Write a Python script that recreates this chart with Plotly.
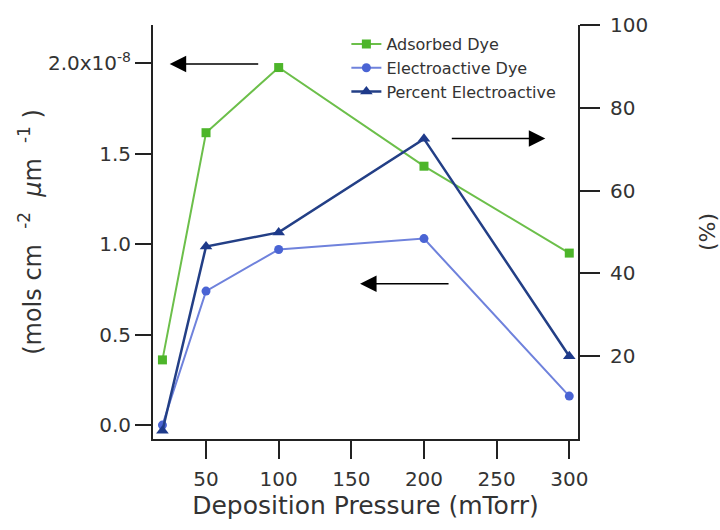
import plotly.graph_objects as go

pressure = [20, 50, 100, 200, 300]
adsorbed = [0.36e-8, 1.615e-8, 1.975e-8, 1.43e-8, 0.95e-8]
electroactive = [0.0, 0.74e-8, 0.97e-8, 1.03e-8, 0.16e-8]
percent = [2.0, 46.5, 49.9, 72.5, 20.0]

left_tickvals = [0, 0.5e-8, 1.0e-8, 1.5e-8, 2.0e-8]
left_ticktext = ["0.0", "0.5", "1.0", "1.5", "2.0x10<sup>-8</sup>"]
right_tickvals = [20, 40, 60, 80, 100]
x_tickvals = [50, 100, 150, 200, 250, 300]

FONT = "DejaVu Sans"
TXT = "#333333"

fig = go.Figure()
fig.add_trace(go.Scatter(x=pressure, y=adsorbed, name="Adsorbed Dye", mode="lines+markers",
                         line=dict(color="#6cbf4a", width=2),
                         marker=dict(symbol="square", size=9, color="#4db52a")))
fig.add_trace(go.Scatter(x=pressure, y=electroactive, name="Electroactive Dye", mode="lines+markers",
                         line=dict(color="#6f82dc", width=2),
                         marker=dict(symbol="circle", size=9, color="#4a64d4")))
fig.add_trace(go.Scatter(x=pressure, y=percent, name="Percent Electroactive", mode="lines+markers",
                         yaxis="y2",
                         line=dict(color="#233f86", width=2.5),
                         marker=dict(symbol="triangle-up", size=11, color="#1e3a8a")))

axis_common = dict(showline=True, linecolor="#222222", linewidth=2, ticks="outside",
                   tickcolor="#222222", tickwidth=2, showgrid=False, zeroline=False,
                   automargin=False,
                   tickfont=dict(family=FONT, size=20, color=TXT))

fig.update_layout(
    width=720, height=530,
    margin=dict(l=153, r=142, t=25, b=91),
    paper_bgcolor="white", plot_bgcolor="white",
    font=dict(family=FONT, color=TXT),
    xaxis=dict(range=[13.5, 306], tickvals=x_tickvals, ticklen=18, ticklabelstandoff=3, **axis_common,
               title=dict(text="Deposition Pressure (mTorr)", font=dict(family=FONT, size=25, color=TXT), standoff=0)),
    yaxis=dict(range=[-0.077e-8, 2.21e-8], tickvals=left_tickvals, ticktext=left_ticktext, ticklen=16, **axis_common,
               title=dict(text="(mols cm  <sup>-2</sup>  <i>μ</i>m  <sup>-1</sup> )", font=dict(family=FONT, size=24, color=TXT), standoff=0)),
    yaxis2=dict(range=[0, 100], tickvals=right_tickvals, overlaying="y", side="right", ticklen=20,
                ticklabelstandoff=6, **axis_common,
                title=dict(text="(%)", font=dict(family=FONT, size=22, color=TXT), standoff=52)),
    legend=dict(x=0.455, y=0.995, xanchor="left", yanchor="top", bgcolor="rgba(255,255,255,0)",
                font=dict(family=FONT, size=16, color=TXT), tracegroupgap=0, itemwidth=30),
    showlegend=True,
)

arrow = dict(showarrow=True, arrowhead=2, arrowsize=2.2, arrowwidth=1.5, arrowcolor="black", text="")
fig.add_annotation(x=25, y=1.995e-8, xref="x", yref="y", ax=90, ay=0, **arrow)
fig.add_annotation(x=283.5, y=72.6, xref="x", yref="y2", ax=-95, ay=0, **arrow)
fig.add_annotation(x=156, y=0.78e-8, xref="x", yref="y", ax=90, ay=0, **arrow)

fig.write_html("out.html")
